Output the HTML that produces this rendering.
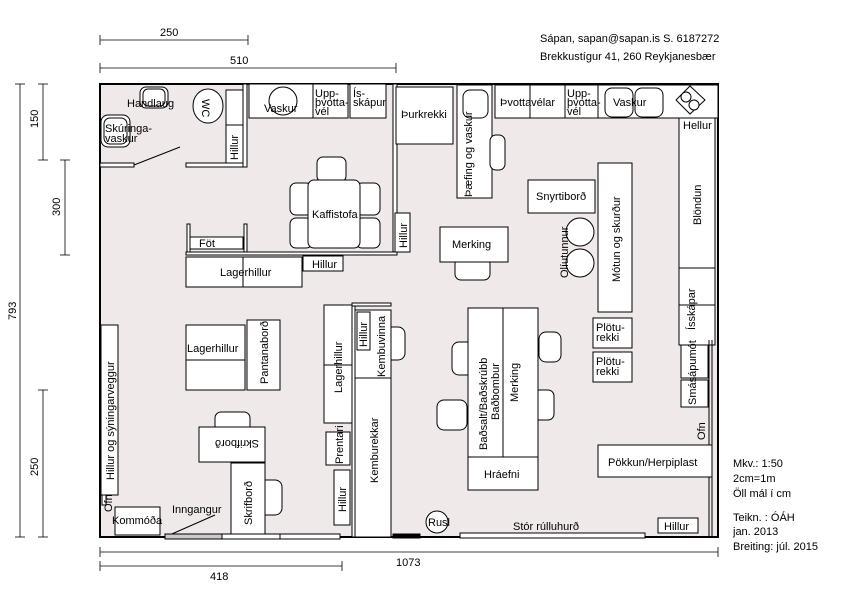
<!DOCTYPE html>
<html><head><meta charset="utf-8"><style>body{margin:0;background:#fff}svg{display:block}text{font-family:"Liberation Sans",sans-serif;font-size:11px;fill:#000}</style></head><body>
<svg width="850" height="601" viewBox="0 0 850 601" xmlns="http://www.w3.org/2000/svg">
<g stroke="#000" stroke-width="0.8" fill="none">
<line x1="100" y1="40" x2="248" y2="40"/><line x1="100" y1="35" x2="100" y2="45"/><line x1="248" y1="35" x2="248" y2="45"/>
<line x1="100" y1="68" x2="396" y2="68"/><line x1="100" y1="63" x2="100" y2="73"/><line x1="396" y1="63" x2="396" y2="73"/>
<line x1="43" y1="84" x2="43" y2="160"/><line x1="38" y1="84" x2="48" y2="84"/><line x1="38" y1="160" x2="48" y2="160"/>
<line x1="65" y1="160" x2="65" y2="255"/><line x1="60" y1="160" x2="70" y2="160"/><line x1="60" y1="255" x2="70" y2="255"/>
<line x1="20" y1="84" x2="20" y2="537"/><line x1="15" y1="84" x2="25" y2="84"/><line x1="15" y1="537" x2="25" y2="537"/>
<line x1="43" y1="390" x2="43" y2="537"/><line x1="38" y1="390" x2="48" y2="390"/><line x1="38" y1="537" x2="48" y2="537"/>
<line x1="100" y1="552" x2="718" y2="552"/><line x1="100" y1="547" x2="100" y2="557"/><line x1="718" y1="547" x2="718" y2="557"/>
<line x1="100" y1="566" x2="342" y2="566"/><line x1="100" y1="561" x2="100" y2="571"/><line x1="342" y1="561" x2="342" y2="571"/>
</g>
<text x="160" y="36">250</text><text x="230" y="64">510</text><text x="210" y="580">418</text><text x="396" y="566">1073</text>
<text transform="translate(38,128) rotate(-90)">150</text><text transform="translate(60,216) rotate(-90)">300</text>
<text transform="translate(16,320) rotate(-90)">793</text><text transform="translate(38,476) rotate(-90)">250</text>
<text x="540" y="42">Sápan, sapan@sapan.is S. 6187272</text><text x="540" y="60">Brekkustígur 41, 260 Reykjanesbær</text>
<text x="733" y="467">Mkv.: 1:50</text><text x="733" y="482">2cm=1m</text><text x="733" y="497">Öll mál í cm</text>
<text x="733" y="521">Teikn. : ÓÁH</text><text x="733" y="535">jan. 2013</text><text x="733" y="550">Breiting: júl. 2015</text>

<rect x="100" y="84" width="618" height="453" fill="#efe9e9" stroke="#000" stroke-width="2"/>
<g stroke="#000" stroke-width="1" fill="#fff">
<!-- WC area -->
<rect x="100" y="163" width="34" height="4"/><rect x="186" y="163" width="57" height="4"/>
<line x1="134" y1="165" x2="180" y2="147"/>
<rect x="243" y="84" width="4" height="83"/>
<rect x="140" y="87" width="28" height="21" rx="6"/><rect x="143" y="89" width="22" height="17" rx="5"/>
<rect x="101" y="115" width="29" height="32" rx="7"/><rect x="104" y="118" width="23" height="26" rx="6"/>
<ellipse cx="208" cy="106" rx="15" ry="17"/>
<rect x="226" y="90" width="17" height="35"/><rect x="226" y="125" width="17" height="38"/>
<!-- kitchen -->
<rect x="249" y="84" width="64" height="34"/><circle cx="283" cy="101" r="14" fill="none"/>
<rect x="313" y="84" width="35" height="34"/><rect x="350" y="84" width="36" height="34"/>
<rect x="393" y="84" width="4" height="168"/>
<rect x="186" y="252" width="211" height="3"/>
<rect x="187" y="224" width="3" height="28"/><rect x="244" y="224" width="3" height="28"/><rect x="190" y="237" width="53" height="12"/>
<rect x="395" y="213" width="15" height="39"/>
<rect x="317" y="157" width="29" height="25" rx="6"/>
<rect x="290" y="183" width="22" height="32" rx="6"/><rect x="290" y="218" width="22" height="30" rx="6"/>
<rect x="356" y="183" width="24" height="32" rx="6"/><rect x="356" y="218" width="24" height="30" rx="6"/>
<rect x="308" y="180" width="52" height="68" rx="6"/>
<rect x="186" y="257" width="57" height="30"/><rect x="243" y="257" width="59" height="30"/><rect x="303" y="256" width="40" height="15"/>
<!-- top right -->
<rect x="396" y="87" width="57" height="57"/>
<rect x="457" y="85" width="35" height="113"/><rect x="463" y="90" width="25" height="28" rx="7"/>
<rect x="490" y="135" width="15" height="35" rx="6"/>
<rect x="495" y="85" width="223" height="33"/><line x1="530" y1="85" x2="530" y2="118"/><line x1="565" y1="85" x2="565" y2="118"/><line x1="598" y1="85" x2="598" y2="118"/>
<rect x="605" y="88" width="28" height="29" rx="7"/><rect x="635" y="88" width="28" height="29" rx="7"/>
<polygon points="690,86 705,100 690,114 676,100"/><circle cx="686" cy="97" r="5"/><circle cx="694" cy="105" r="5"/>
<rect x="679" y="118" width="36" height="150"/><rect x="679" y="268" width="36" height="37"/><rect x="679" y="305" width="36" height="40"/>
<rect x="528" y="180" width="67" height="33"/><rect x="598" y="163" width="34" height="149"/>
<circle cx="580" cy="232" r="14"/><circle cx="580" cy="263" r="14"/>
<rect x="455" y="258" width="35" height="22" rx="6"/><rect x="440" y="227" width="68" height="35"/>
<!-- lower right -->
<rect x="452" y="342" width="22" height="33" rx="7"/><rect x="437" y="400" width="30" height="30" rx="7"/>
<rect x="539" y="332" width="22" height="30" rx="7"/><rect x="534" y="390" width="20" height="30" rx="6"/>
<rect x="468" y="308" width="35" height="149"/><rect x="503" y="308" width="35" height="149"/><rect x="468" y="457" width="70" height="33"/>
<rect x="593" y="318" width="39" height="30"/><rect x="593" y="352" width="39" height="30"/>
<rect x="681" y="345" width="27" height="33"/><rect x="681" y="380" width="27" height="27"/>
<line x1="712" y1="340" x2="712" y2="537"/><line x1="709" y1="340" x2="709" y2="537"/>
<rect x="598" y="445" width="114" height="32"/>
<rect x="658" y="518" width="40" height="15"/>
<circle cx="437" cy="522" r="11"/>
<rect x="460" y="533" width="185" height="5"/>
<!-- lower left -->
<rect x="101" y="325" width="17" height="170"/><rect x="102" y="495" width="4" height="10"/>
<rect x="115" y="507" width="45" height="28"/>
<line x1="165" y1="537" x2="215" y2="515"/>
<rect x="165" y="534" width="57" height="5" fill="#ccc"/><rect x="222" y="534" width="58" height="5"/><rect x="280" y="534" width="60" height="5"/>
<rect x="186" y="325" width="59" height="35"/><rect x="186" y="360" width="59" height="30"/><rect x="247" y="320" width="33" height="70"/>
<rect x="215" y="412" width="35" height="20" rx="6"/><rect x="199" y="427" width="66" height="35"/>
<rect x="255" y="480" width="27" height="35" rx="7"/><rect x="231" y="463" width="34" height="71"/>
<rect x="324" y="305" width="28" height="60"/><rect x="324" y="365" width="28" height="58"/>
<rect x="352" y="305" width="3" height="232"/><rect x="352" y="303" width="39" height="3"/>
<rect x="385" y="327" width="20" height="33" rx="7"/>
<rect x="355" y="310" width="36" height="68"/><rect x="357" y="312" width="13" height="38"/>
<rect x="355" y="378" width="36" height="159"/>
<rect x="326" y="432" width="24" height="33"/><rect x="334" y="470" width="16" height="55"/>
<rect x="393" y="534" width="27" height="4" fill="#000"/>
</g>
<text x="127" y="107">Handlaug</text><text x="105" y="132">Skúringa-</text><text x="105" y="142">vaskur</text>
<text transform="translate(202,99) rotate(90)">WC</text>
<text transform="translate(238,160) rotate(-90)">Hillur</text>
<text x="264" y="112">Vaskur</text><text x="315" y="97" font-size="10">Upp-</text><text x="315" y="106" font-size="10">þvotta-</text><text x="315" y="115" font-size="10">vél</text>
<text x="353" y="97" font-size="10">Ís-</text><text x="353" y="106" font-size="10">skápur</text>
<text x="312" y="218">Kaffistofa</text><text x="199" y="247">Föt</text><text x="220" y="276">Lagerhillur</text><text x="312" y="268">Hillur</text>
<text transform="translate(407,248) rotate(-90)">Hillur</text>
<text x="401" y="118">Þurkrekki</text><text transform="translate(472,197) rotate(-90)">Þæfing og vaskur</text>
<text x="500" y="106">Þvottavélar</text><text x="567" y="97" font-size="10">Upp-</text><text x="567" y="106" font-size="10">þvotta-</text><text x="567" y="115" font-size="10">vél</text>
<text x="613" y="106">Vaskur</text><text x="683" y="129">Hellur</text>
<text transform="translate(701,225) rotate(-90)">Blöndun</text><text transform="translate(695,330) rotate(-90)">Ísskápar</text>
<text x="536" y="200">Snyrtiborð</text><text transform="translate(620,282) rotate(-90)">Mótun og skurður</text>
<text transform="translate(568,278) rotate(-90)">Olíutunnur</text><text x="452" y="248">Merking</text>
<text transform="translate(487,450) rotate(-90)">Baðsalt/Baðskrúbb</text><text transform="translate(499,420) rotate(-90)">Baðbombur</text>
<text transform="translate(518,402) rotate(-90)">Merking</text><text x="484" y="478">Hráefni</text>
<text x="596" y="331">Plötu-</text><text x="596" y="341">rekki</text><text x="596" y="365">Plötu-</text><text x="596" y="375">rekki</text>
<text transform="translate(696,405) rotate(-90)">Smásápumót</text><text transform="translate(705,440) rotate(-90)">Ofn</text>
<text x="608" y="466">Pökkun/Herpiplast</text><text x="664" y="530">Hillur</text>
<text x="428" y="526" font-size="10">Rusl</text><text x="513" y="530">Stór rúlluhurð</text>
<text transform="translate(114,480) rotate(-90)">Hillur og sýningarveggur</text><text transform="translate(112,512) rotate(-90)" font-size="10">Ofn</text>
<text x="112" y="524">Kommóða</text><text x="172" y="513">Inngangur</text>
<text x="187" y="352">Lagerhillur</text><text transform="translate(268,384) rotate(-90)">Pantanaborð</text>
<text transform="translate(219,440) rotate(180)" x="-40">Skrifborð</text>
<text transform="translate(252,525) rotate(-90)">Skrifborð</text>
<text transform="translate(342,393) rotate(-90)">Lagerhillur</text><text transform="translate(367,347) rotate(-90)">Hillur</text>
<text transform="translate(385,377) rotate(-90)">Kembuvinna</text><text transform="translate(378,483) rotate(-90)">Kemburekkar</text>
<text transform="translate(343,464) rotate(-90)">Prentari</text><text transform="translate(346,512) rotate(-90)">Hillur</text>
</svg>
</body></html>
